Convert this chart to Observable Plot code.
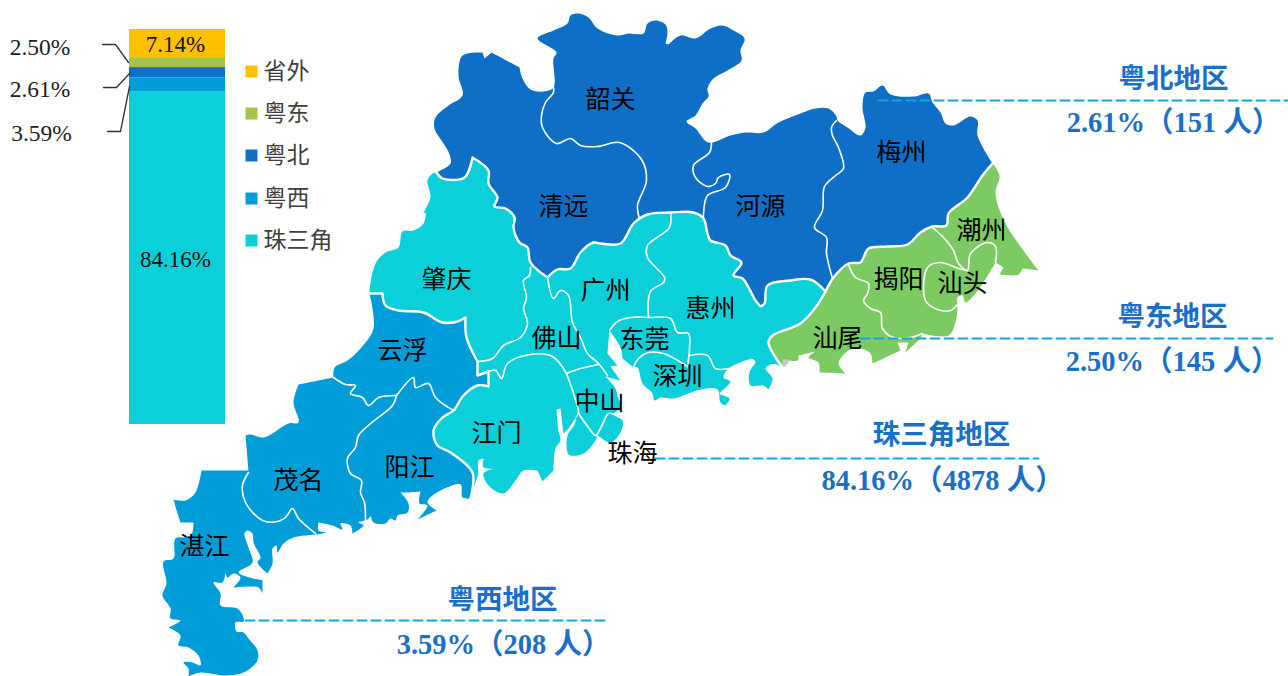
<!DOCTYPE html>
<html lang="zh">
<head>
<meta charset="utf-8">
<script src="https://cdn.jsdelivr.net/npm/d3@7"></script>
<script src="https://cdn.jsdelivr.net/npm/@observablehq/plot@0.6"></script>
<style>
html,body{margin:0;padding:0;background:#fff;}
#wrap{position:relative;width:1288px;height:676px;overflow:hidden;}
#wrap svg{position:absolute;left:0;top:0;background:transparent;}
</style>
</head>
<body>
<div id="wrap"></div>
<script>
// ---------- values ----------
const shareNames = ["珠三角", "粤西", "粤北", "粤东", "省外"];
const shareValues = [84.16, 3.59, 2.61, 2.50, 7.14];
const insideBarLabels = ["84.16%", "", "", "", "7.14%"];
const legendNames = ["省外", "粤东", "粤北", "粤西", "珠三角"];
const regionTitles = ["粤北地区", "粤东地区", "珠三角地区", "粤西地区"];
const regionNotes = ["2.61%（151 人）", "2.50%（145 人）", "84.16%（4878 人）", "3.59%（208 人）"];
const cityNames = ["韶关","清远","河源","梅州","潮州","揭阳","汕头","汕尾","惠州","广州","东莞","深圳","佛山","肇庆","云浮","中山","珠海","江门","阳江","茂名","湛江"];

// ---------- geography, traced in picture units ----------
const borderNorthCoreE = [[436,172],[442,178],[464,177],[472,157],[488,170],[488,183],[497,197],[494,206],[505,208],[514,217],[513,227],[519,242],[527,247],[530,262],[547,277],[557,269],[570,268],[580,252],[593,242],[600,243],[620,243],[633,223],[647,214],[670,212],[693,212],[703,218],[707,233],[710,240],[725,245],[730,255],[741,262],[733,275],[742,278],[755,300],[760,306],[764,303],[767,285],[790,280],[810,279],[825,291]];
const borderNorthEast = [[825,291],[833,277],[848,263],[860,262],[863,257],[868,248],[887,246],[907,244],[920,232],[932,226],[946,225],[948,213],[967,197],[982,175],[992,163]];
const borderEastCore = [[825,291],[815,307],[800,323],[772,335],[768,342],[782,367]];
const borderWestCore = [[369,293],[382,293],[385,305],[398,310],[423,312],[442,322],[457,321],[465,317],[466,337],[477,361],[477,375],[488,371],[488,386],[477,385],[463,395],[453,410],[442,417],[433,430],[437,445],[450,452],[472,472],[470,498]];
const outerNorth = [[436,172],[450,163],[449,154],[443,143],[434,128],[435,117],[448,105],[462,95],[458,75],[462,55],[482,52],[484,58],[491,52],[519,67],[522,78],[530,89],[543,91],[553,87],[553,58],[556,52],[537,38],[553,30],[567,23],[570,15],[578,13],[588,17],[597,28],[617,35],[628,33],[643,33],[647,23],[655,20],[665,24],[667,32],[665,43],[668,44],[680,35],[695,38],[710,28],[722,25],[733,30],[744,38],[740,50],[741,60],[727,70],[713,78],[707,88],[708,96],[702,103],[695,115],[686,121],[695,128],[708,142],[730,135],[745,132],[763,132],[778,122],[800,113],[815,108],[828,108],[836,116],[837,120],[847,127],[860,135],[865,127],[862,107],[865,92],[873,91],[882,85],[890,94],[913,96],[928,93],[932,102],[940,112],[945,123],[953,125],[970,116],[977,120],[977,135],[992,163]];
const outerEast = [[992,163],[999,175],[995,193],[1005,223],[1038,270],[1022,268],[1018,274],[999,274],[1003,267],[995,262],[986,277],[975,293],[965,302],[962,295],[957,297],[957,307],[955,322],[948,335],[922,333],[920,338],[905,352],[908,342],[897,342],[900,350],[872,363],[870,353],[860,348],[848,350],[838,363],[845,373],[819,372],[818,362],[808,357],[815,351],[798,355],[797,360],[783,359],[782,367]];
const coastCore = [[782,367],[776,364],[770,364],[765,368],[772,378],[768,389],[763,385],[750,385],[749,372],[755,361],[751,358],[728,368],[723,377],[730,381],[723,389],[719,393],[729,398],[725,405],[720,402],[717,389],[700,389],[673,398],[660,397],[654,400],[652,393],[642,383],[637,367],[633,367],[622,358],[620,347],[609,330],[607,353],[617,365],[610,366],[620,380],[605,376],[615,388],[617,395],[620,407],[613,414],[622,420],[620,432],[610,442],[600,437],[597,435],[595,440],[583,453],[570,455],[567,452],[567,435],[574,424],[576,416],[568,428],[563,433],[560,408],[556,409],[558,430],[560,440],[555,448],[553,470],[542,481],[537,470],[523,470],[515,480],[503,493],[488,485],[483,473],[493,468],[483,467],[483,458],[478,460],[478,473],[470,498]];
const westCoreNorth = [[369,293],[369,290],[375,263],[385,252],[398,247],[402,231],[413,230],[423,223],[425,212],[423,213],[430,197],[427,180],[432,173],[436,172]];
const coastWest = [[470,498],[462,497],[460,484],[432,495],[427,502],[436,510],[417,519],[427,505],[419,503],[420,491],[407,492],[400,492],[408,503],[407,512],[397,515],[395,520],[390,518],[385,523],[373,522],[370,516],[367,519],[358,522],[363,525],[352,533],[350,525],[340,523],[342,529],[332,525],[318,522],[318,530],[325,532],[317,534],[293,537],[283,543],[277,552],[276,545],[272,548],[272,563],[267,573],[257,562],[260,557],[253,542],[252,533],[247,530],[244,533],[248,547],[252,562],[238,572],[262,580],[262,593],[258,587],[233,587],[240,577],[233,573],[227,577],[225,572],[222,582],[213,582],[220,593],[220,605],[237,608],[243,617],[243,621],[235,622],[236,631],[243,632],[248,638],[257,650],[257,660],[243,672],[225,675],[200,672],[188,676],[188,668],[183,662],[192,662],[200,665],[198,655],[188,647],[178,645],[180,635],[168,627],[180,620],[170,618],[170,608],[162,595],[166,583],[163,561],[173,558],[175,538],[190,536],[193,522],[180,522],[177,513],[173,499],[185,500],[195,492],[201,470],[248,470],[245,435],[250,434],[263,437],[288,423],[298,422],[293,402],[298,384],[333,377],[334,367],[347,360],[360,348],[373,328],[369,293]];
const patch = [[783,359],[790,359],[785,366],[781,367]];
// vertices where the traced outline turns sharply rather than smoothly
const sharpVertices = [[201,470],[248,470],[245,435],[173,499],[193,522],[180,522],[1038,270],[905,352],[908,342],[872,363],[845,373],[819,372],[782,367],[768,389],[751,358],[725,405],[563,433],[560,408],[556,409],[576,416],[470,498],[553,470],[542,481],[537,470],[478,473],[483,458],[493,468],[417,519],[436,510],[400,492],[420,491],[352,533],[318,522],[317,534],[267,573],[225,572],[262,580],[262,593],[233,587],[188,676],[168,627],[491,52],[484,58],[482,52],[519,67],[436,172],[472,157],[547,277],[760,306],[992,163],[825,291],[369,293],[609,330],[607,353],[617,365],[610,366],[620,380],[605,376],[633,367],[622,358],[333,377],[298,384],[668,44],[665,43],[477,361],[477,375],[488,371],[488,386],[465,317],[382,293],[999,274],[1022,268],[1003,267],[995,262],[922,333],[920,338],[897,342],[900,350],[815,351],[798,355],[783,359]];

const innerLines = [
  [[553,87],[553,92],[545,102],[541,115],[542,127],[556,143],[570,138],[580,145],[597,146],[619,142],[641,159],[646,180],[637,205],[639,218]],
  [[711,142],[709,152],[693,165],[695,177],[707,186],[715,183],[718,177],[729,174],[725,187],[707,195],[703,213],[703,218]],
  [[836,120],[831,127],[832,135],[838,147],[843,168],[835,175],[824,186],[822,210],[814,227],[826,237],[826,253],[832,278]],
  [[932,227],[943,237],[953,250],[958,263],[967,270],[970,253],[987,242],[995,246],[995,262]],
  [[967,270],[958,268],[940,262],[927,267],[925,300],[937,309],[950,310],[957,304]],
  [[848,264],[855,277],[868,283],[867,293],[863,300],[870,308],[880,312],[882,328],[893,337],[910,337],[922,333]],
  [[530,267],[529,275],[523,280],[526,297],[523,308],[527,323],[520,337],[503,345],[492,358],[477,361]],
  [[547,277],[553,298],[560,290],[568,295],[572,322],[580,337],[587,353],[598,363],[607,375]],
  [[477,375],[488,371],[495,370],[501,378],[507,363],[530,354],[552,356],[566,373]],
  [[566,373],[580,368],[598,364]],
  [[566,373],[573,393],[578,412],[576,416]],
  [[578,413],[588,427],[595,435],[600,428],[608,413],[613,414]],
  [[670,212],[669,227],[647,245],[647,257],[664,277],[663,282],[650,291],[648,317]],
  [[609,330],[617,321],[630,317],[648,317],[670,318],[677,332],[688,333],[689,348],[687,366]],
  [[687,366],[663,353],[648,352],[638,358],[633,367]],
  [[689,355],[707,355],[715,368],[728,368]],
  [[248,472],[242,485],[245,502],[262,520],[277,521],[285,517],[292,508],[298,518],[315,533]],
  [[365,520],[364,502],[360,492],[361,480],[350,473],[347,458],[355,447],[358,435],[370,423],[392,405],[396,395]],
  [[333,377],[345,384],[355,385],[350,393],[362,397],[368,405],[378,397],[396,395]],
  [[396,395],[413,377],[415,387],[428,383],[435,397],[453,410]]
];

// anchors for annotation, in picture units
const cityAnchors = [[610,99],[563,206],[760,206],[901,152],[981,230],[898,279],[962,283],[837,338],[710,308],[605,290],[644,339],[677,376],[556,338],[446,279],[402,350],[599,401],[632,453],[496,433],[409,467],[298,480],[204,546]];
const leaderLabels = ["2.50%", "2.61%", "3.59%"];
const leaderLabelAnchors = [[39.5,47],[39.5,89],[41,133]];
const leaderPaths = [
  [[102,44],[115,44],[128,62]],
  [[103,87],[116,87],[129,73]],
  [[107,131],[120,131],[129,86]]
];
const legendAnchors = [[251,71],[251,113],[251,155],[251,198],[251,240]];
const dashedLeaders = [
  [[878,100],[1288,100]],
  [[860,338],[1272,338]],
  [[655,458],[1038,458]],
  [[245,620],[608,620]]
];
const titleAnchors = [[1173,79],[1172,317],[941,435],[502,600]];
const noteAnchors = [[1173,122],[1172,361],[942,480],[503,644]];

// ---------- colours ----------
const colorOf = {"珠三角":"#0BD0D9","粤西":"#009DD9","粤北":"#0F6FC6","粤东":"#A5C249","省外":"#FFC000"};
const mapGreen = "#7CCA62";
const sansFont = "'Noto Sans CJK SC','Noto Sans',sans-serif";
const serifFont = "'Liberation Serif','Noto Sans CJK SC',serif";
const noteColor = "#1A70C8";

// ---------- helpers ----------
const rev = a => a.slice().reverse();
const sharpKeys = new Set(sharpVertices.map(String));
const sharpen = pts => pts.flatMap(p => sharpKeys.has(String(p)) ? [p, p] : [p]);
const rows = (name, pts) => sharpen(pts).map(([x,y]) => ({name,x,y}));
const at = (names, anchors) => names.map((t,i) => ({t, x:anchors[i][0], y:anchors[i][1]}));

const areas = [
  {name:"粤北", fill:colorOf["粤北"], pts:[...outerNorth, ...rev(borderNorthEast).slice(1), ...rev(borderNorthCoreE).slice(1,-1)]},
  {name:"粤东", fill:mapGreen, pts:[...outerEast, ...rev(borderEastCore).slice(1,-1), ...borderNorthEast.slice(0,-1)]},
  {name:"珠三角", fill:colorOf["珠三角"], pts:[...coastCore, ...rev(borderWestCore).slice(1), ...westCoreNorth.slice(1), ...borderNorthCoreE.slice(1), ...borderEastCore.slice(1,-1)]},
  {name:"粤西", fill:colorOf["粤西"], pts:[...borderWestCore, ...coastWest.slice(1,-1)]}
];

const pixelX = {domain:[0,1288], range:[0,1288]};
const pixelY = {domain:[0,676], range:[0,676]};

// ---------- stacked bar ----------
const shareRows = shareNames.map((name,i) => ({name, value:shareValues[i], label:insideBarLabels[i]}));
const bar = Plot.plot({
  width:1288, height:676, margin:0,
  x:{type:"band", domain:["share"], range:[128.5,225], padding:0, axis:null},
  y:{domain:[0,100], range:[424,29], axis:null},
  marks:[
    Plot.barY(shareRows, {x:()=>"share", y:"value", fill:d=>colorOf[d.name], order:null}),
    Plot.text(shareRows, Plot.stackY({
      x:()=>"share", y:"value", text:"label", order:null,
      fontFamily:serifFont, fontSize:23, fill:"#111", dy:1.5, dx:-2
    }))
  ]
});

// ---------- map and annotations ----------
const map = Plot.plot({
  width:1288, height:676, margin:0,
  x:{...pixelX, axis:null}, y:{...pixelY, axis:null},
  marks:[
    ...areas.map(a => Plot.line(rows(a.name,a.pts), {x:"x", y:"y", fill:a.fill, stroke:null, curve:"catmull-rom-closed"})),
    Plot.line(rows("patch",patch), {x:"x", y:"y", fill:"#C8C8C8", stroke:null, curve:"linear-closed"}),
    ...innerLines.map((l,i) => Plot.line(rows("b"+i,l), {x:"x", y:"y", stroke:"#fff", strokeWidth:1.6, curve:"catmull-rom"})),
    ...[borderNorthCoreE, borderNorthEast, borderEastCore, borderWestCore].map((l,i) =>
      Plot.line(rows("g"+i,l), {x:"x", y:"y", stroke:"#fff", strokeWidth:2.4, curve:"catmull-rom"})),
    ...dashedLeaders.map((l,i) => Plot.line(rows("d"+i,l), {x:"x", y:"y", stroke:"#12A5E0", strokeWidth:2, strokeDasharray:"9,5"})),
    Plot.text(at(cityNames,cityAnchors), {x:"x", y:"y", text:"t", fontFamily:sansFont, fontSize:25, fill:"#000"}),
    ...leaderPaths.map((l,i) => Plot.line(rows("l"+i,l), {x:"x", y:"y", stroke:"#333", strokeWidth:1.3})),
    Plot.text(at(leaderLabels,leaderLabelAnchors), {x:"x", y:"y", text:"t", fontFamily:serifFont, fontSize:23.5, fill:"#222"}),
    Plot.dot(at(legendNames,legendAnchors), {x:"x", y:"y", symbol:"square", r:6.77, fill:d=>colorOf[d.t], stroke:null}),
    Plot.text(at(legendNames,legendAnchors), {x:"x", y:"y", dx:12, text:"t", textAnchor:"start", fontFamily:sansFont, fontSize:23, fill:"#404040"}),
    Plot.text(at(regionTitles,titleAnchors), {x:"x", y:"y", text:"t", fontFamily:sansFont, fontSize:27.5, fontWeight:"bold", fill:noteColor}),
    Plot.text(at(regionNotes,noteAnchors), {x:"x", y:"y", text:"t", fontFamily:serifFont, fontSize:28.5, fontWeight:"bold", fill:noteColor})
  ]
});

const wrap = document.getElementById("wrap");
wrap.append(bar, map);
</script>
</body>
</html>
